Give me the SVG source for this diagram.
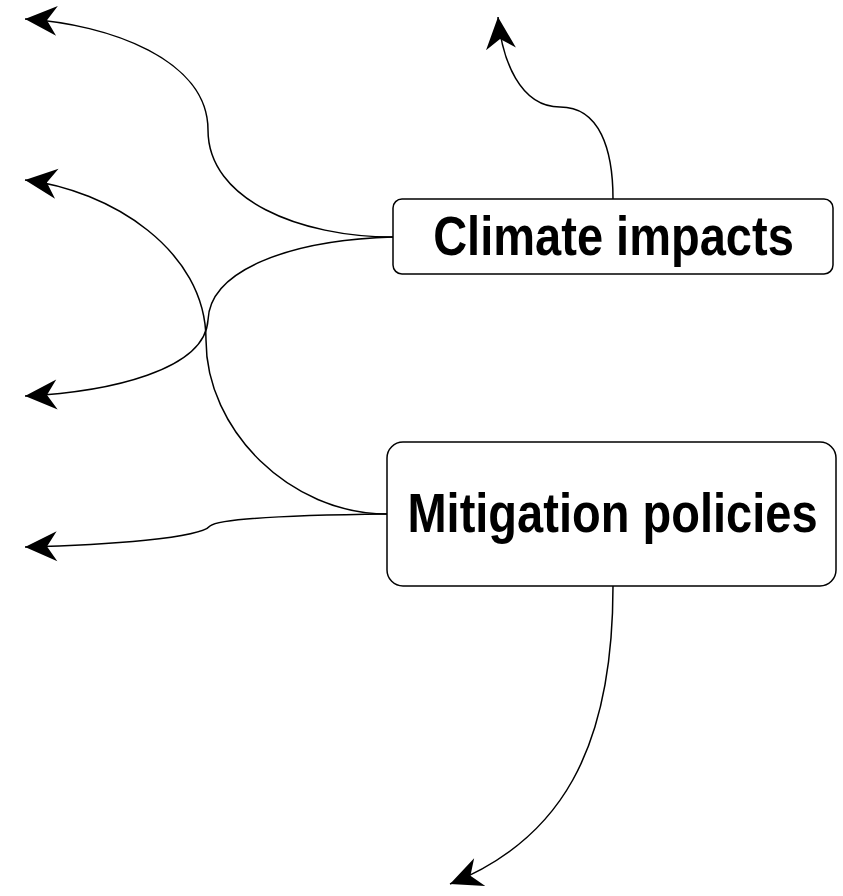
<svg xmlns="http://www.w3.org/2000/svg" width="843" height="896" viewBox="0 0 843 896">
<defs>
<marker id="arr" markerUnits="userSpaceOnUse" markerWidth="40" markerHeight="40" refX="0" refY="0" orient="auto" overflow="visible">
<path d="M0,0 L-32,-15 L-22,0 L-32,15 Z" fill="#000"/>
</marker>
<style>
.edge{fill:none;stroke:#000;stroke-width:1.5;marker-end:url(#arr)}
.box{fill:#fff;stroke:#000;stroke-width:1.5}
.lbl{font-family:"Liberation Sans",Arial,sans-serif;font-weight:bold;font-size:56px;text-anchor:middle;fill:#000}
</style>
</defs>
<rect width="843" height="896" fill="#fff"/>
<g id="connectors">
<path class="edge" d="M393,237 C300,237 208,200 208,130 C208,60 110,24 25,19"/>
<path class="edge" d="M613,199 C613,150 600,107 560,107 C520,107 502,60 498,17"/>
<path class="edge" d="M393,237 C290,240 210,270 208,320 C205,370 110,392 25,396"/>
<path class="edge" d="M387,514 C290,514 206,430 206,340 C206,250 110,190 25,180"/>
<path class="edge" d="M387,514 C300,515 220,518 210,526 C200,538 110,545 25,547"/>
<path class="edge" d="M613,586 C613,750 560,840 450,884"/>
</g>
<g id="climate-impacts">
<rect class="box" x="393" y="199" width="440" height="75" rx="9"/>
<text class="lbl" transform="translate(613.5,255) scale(0.84,1)">Climate impacts</text>
</g>
<g id="mitigation-policies">
<rect class="box" x="387" y="442" width="449" height="144" rx="16"/>
<text class="lbl" transform="translate(612.5,532) scale(0.84,1)">Mitigation policies</text>
</g>
</svg>
